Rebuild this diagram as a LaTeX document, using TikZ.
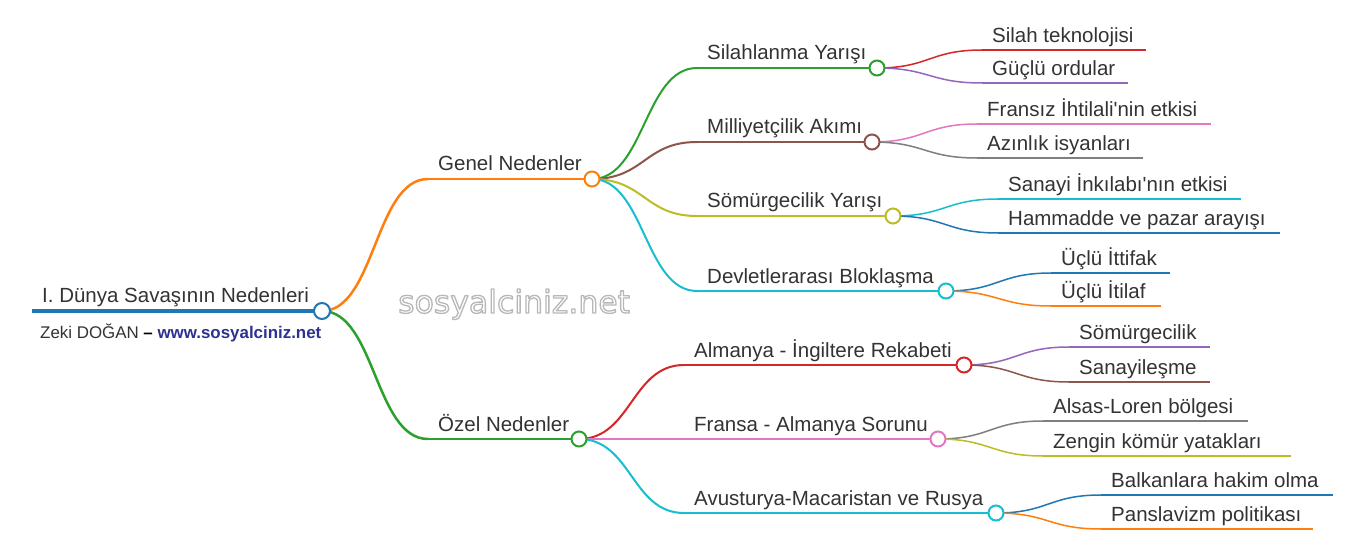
\documentclass[tikz,border=0pt]{standalone}
\usepackage{fontspec}
\newfontfamily\labfont{Liberation Sans}
\newfontfamily\wmfont{DejaVu Sans}
\usetikzlibrary{calc}
\definecolor{cblue}{HTML}{1F77B4}
\definecolor{corange}{HTML}{FF7F0E}
\definecolor{cgreen}{HTML}{2CA02C}
\definecolor{cred}{HTML}{D62728}
\definecolor{cpurple}{HTML}{9467BD}
\definecolor{cbrown}{HTML}{8C564B}
\definecolor{cpink}{HTML}{E377C2}
\definecolor{cgray}{HTML}{7F7F7F}
\definecolor{colive}{HTML}{BCBD22}
\definecolor{ccyan}{HTML}{17BECF}
\definecolor{txt}{HTML}{333333}
\definecolor{urlc}{HTML}{2E3192}
\tikzset{
  lbl/.style={anchor=base west, inner sep=0pt, font=\labfont\fontsize{20.5}{24}\selectfont, text=txt},
  dot/.style={circle, draw=#1, fill=white, line width=2pt, minimum size=15pt, inner sep=0pt},
  wm/.style={anchor=base west, inner sep=0pt, font=\wmfont\fontsize{31.5}{36}\selectfont},
  lw0/.style={line width=3.2pt},
  lw1/.style={line width=2.5pt},
  lw2/.style={line width=2pt},
  lw3/.style={line width=1.5pt}
}
\newcommand\lnk[3]{\draw[#3] let \p1=(#1), \p2=(#2) in (\p1) .. controls ({(\x1+\x2)/2},\y1) and ({(\x1+\x2)/2},\y2) .. (\p2);}
\begin{document}
\begin{tikzpicture}[x=1pt,y=-1pt]
\useasboundingbox[fill=white] (0,0) rectangle (1356,553);
% watermark: white letters with a grey outline
\node[wm, text=white] (wmark) at (398,313)
  {\special{pdf:literal direct 1 j 1.3 w 0.72 G 2 Tr}sosyalciniz.net\special{pdf:literal direct 0 Tr}};
% coordinates
\coordinate (r-s) at (32,311);  \coordinate (r) at (322,311);
\coordinate (g-s) at (428,179); \coordinate (g) at (592,179);
\coordinate (o-s) at (428,439); \coordinate (o) at (579,439);
\coordinate (a1-s) at (697,68);  \coordinate (a1) at (877,68);
\coordinate (a2-s) at (697,142); \coordinate (a2) at (872,142);
\coordinate (a3-s) at (697,216); \coordinate (a3) at (893,216);
\coordinate (a4-s) at (697,291); \coordinate (a4) at (946,291);
\coordinate (b1-s) at (684,365); \coordinate (b1) at (964,365);
\coordinate (b2-s) at (684,439); \coordinate (b2) at (938,439);
\coordinate (b3-s) at (684,513); \coordinate (b3) at (996,513);
% leaves
\coordinate (l1-s) at (982,50);   \coordinate (l1-e) at (1146,50);
\coordinate (l2-s) at (982,83);   \coordinate (l2-e) at (1128,83);
\coordinate (l3-s) at (977,124);  \coordinate (l3-e) at (1211,124);
\coordinate (l4-s) at (977,158);  \coordinate (l4-e) at (1143,158);
\coordinate (l5-s) at (998,199);  \coordinate (l5-e) at (1241,199);
\coordinate (l6-s) at (998,233);  \coordinate (l6-e) at (1280,233);
\coordinate (l7-s) at (1051,273); \coordinate (l7-e) at (1170,273);
\coordinate (l8-s) at (1051,306); \coordinate (l8-e) at (1161,306);
\coordinate (l9-s) at (1069,347); \coordinate (l9-e) at (1210,347);
\coordinate (l10-s) at (1069,382); \coordinate (l10-e) at (1210,382);
\coordinate (l11-s) at (1043,421); \coordinate (l11-e) at (1248,421);
\coordinate (l12-s) at (1043,456); \coordinate (l12-e) at (1291,456);
\coordinate (l13-s) at (1101,495); \coordinate (l13-e) at (1333,495);
\coordinate (l14-s) at (1101,529); \coordinate (l14-e) at (1313,529);
% horizontal lines
\draw[cblue,lw0] (r-s) -- (r);
\draw[corange,lw1] (g-s) -- (g);
\draw[cgreen,lw1] (o-s) -- (o);
\draw[cgreen,lw2] (a1-s) -- (a1);
\draw[cbrown,lw2] (a2-s) -- (a2);
\draw[colive,lw2] (a3-s) -- (a3);
\draw[ccyan,lw2] (a4-s) -- (a4);
\draw[cred,lw2] (b1-s) -- (b1);
\draw[cpink,lw2] (b2-s) -- (b2);
\draw[ccyan,lw2] (b3-s) -- (b3);
\draw[cred,lw3] (l1-s) -- (l1-e);
\draw[cpurple,lw3] (l2-s) -- (l2-e);
\draw[cpink,lw3] (l3-s) -- (l3-e);
\draw[cgray,lw3] (l4-s) -- (l4-e);
\draw[ccyan,lw3] (l5-s) -- (l5-e);
\draw[cblue,lw3] (l6-s) -- (l6-e);
\draw[cblue,lw3] (l7-s) -- (l7-e);
\draw[corange,lw3] (l8-s) -- (l8-e);
\draw[cpurple,lw3] (l9-s) -- (l9-e);
\draw[cbrown,lw3] (l10-s) -- (l10-e);
\draw[cgray,lw3] (l11-s) -- (l11-e);
\draw[colive,lw3] (l12-s) -- (l12-e);
\draw[cblue,lw3] (l13-s) -- (l13-e);
\draw[corange,lw3] (l14-s) -- (l14-e);
% links
\lnk{r}{g-s}{corange,lw1}
\lnk{r}{o-s}{cgreen,lw1}
\lnk{g}{a1-s}{cgreen,lw2}
\lnk{g}{a2-s}{cbrown,lw2}
\lnk{g}{a3-s}{colive,lw2}
\lnk{g}{a4-s}{ccyan,lw2}
\lnk{o}{b1-s}{cred,lw2}
\lnk{o}{b2-s}{cpink,lw2}
\lnk{o}{b3-s}{ccyan,lw2}
\lnk{a1}{l1-s}{cred,lw3}
\lnk{a1}{l2-s}{cpurple,lw3}
\lnk{a2}{l3-s}{cpink,lw3}
\lnk{a2}{l4-s}{cgray,lw3}
\lnk{a3}{l5-s}{ccyan,lw3}
\lnk{a3}{l6-s}{cblue,lw3}
\lnk{a4}{l7-s}{cblue,lw3}
\lnk{a4}{l8-s}{corange,lw3}
\lnk{b1}{l9-s}{cpurple,lw3}
\lnk{b1}{l10-s}{cbrown,lw3}
\lnk{b2}{l11-s}{cgray,lw3}
\lnk{b2}{l12-s}{colive,lw3}
\lnk{b3}{l13-s}{cblue,lw3}
\lnk{b3}{l14-s}{corange,lw3}
% circles
\node[dot=cblue, minimum size=16pt] (r-o) at (r) {};
\node[dot=corange] (g-o) at (g) {};
\node[dot=cgreen] (o-o) at (o) {};
\node[dot=cgreen] (a1-o) at (a1) {};
\node[dot=cbrown] (a2-o) at (a2) {};
\node[dot=colive] (a3-o) at (a3) {};
\node[dot=ccyan] (a4-o) at (a4) {};
\node[dot=cred] (b1-o) at (b1) {};
\node[dot=cpink] (b2-o) at (b2) {};
\node[dot=ccyan] (b3-o) at (b3) {};
% texts
\node[lbl] (r-t) at ($(r-s)+(10,-9)$) {I. Dünya Savaşının Nedenleri};
\node[anchor=base west, inner sep=0pt, font=\labfont\fontsize{16.9}{20}\selectfont] (sub) at (40,338)
  {\textcolor{txt}{Zeki DOĞAN} {\bfseries –} \textcolor{urlc}{\bfseries www.sosyalciniz.net}};
\node[lbl] (g-t) at ($(g-s)+(10,-8)$) {Genel Nedenler};
\node[lbl] (o-t) at ($(o-s)+(10,-8)$) {Özel Nedenler};
\node[lbl] (a1-t) at ($(a1-s)+(10,-8)$) {Silahlanma Yarışı};
\node[lbl] (a2-t) at ($(a2-s)+(10,-8)$) {Milliyetçilik Akımı};
\node[lbl] (a3-t) at ($(a3-s)+(10,-8)$) {Sömürgecilik Yarışı};
\node[lbl] (a4-t) at ($(a4-s)+(10,-8)$) {Devletlerarası Bloklaşma};
\node[lbl] (b1-t) at ($(b1-s)+(10,-8)$) {Almanya - İngiltere Rekabeti};
\node[lbl] (b2-t) at ($(b2-s)+(10,-8)$) {Fransa - Almanya Sorunu};
\node[lbl] (b3-t) at ($(b3-s)+(10,-8)$) {Avusturya-Macaristan ve Rusya};
\node[lbl] (l1-t) at ($(l1-s)+(10,-7.5)$) {Silah teknolojisi};
\node[lbl] (l2-t) at ($(l2-s)+(10,-7.5)$) {Güçlü ordular};
\node[lbl] (l3-t) at ($(l3-s)+(10,-7.5)$) {Fransız İhtilali'nin etkisi};
\node[lbl] (l4-t) at ($(l4-s)+(10,-7.5)$) {Azınlık isyanları};
\node[lbl] (l5-t) at ($(l5-s)+(10,-7.5)$) {Sanayi İnkılabı'nın etkisi};
\node[lbl] (l6-t) at ($(l6-s)+(10,-7.5)$) {Hammadde ve pazar arayışı};
\node[lbl] (l7-t) at ($(l7-s)+(10,-7.5)$) {Üçlü İttifak};
\node[lbl] (l8-t) at ($(l8-s)+(10,-7.5)$) {Üçlü İtilaf};
\node[lbl] (l9-t) at ($(l9-s)+(10,-7.5)$) {Sömürgecilik};
\node[lbl] (l10-t) at ($(l10-s)+(10,-7.5)$) {Sanayileşme};
\node[lbl] (l11-t) at ($(l11-s)+(10,-7.5)$) {Alsas-Loren bölgesi};
\node[lbl] (l12-t) at ($(l12-s)+(10,-7.5)$) {Zengin kömür yatakları};
\node[lbl] (l13-t) at ($(l13-s)+(10,-7.5)$) {Balkanlara hakim olma};
\node[lbl] (l14-t) at ($(l14-s)+(10,-7.5)$) {Panslavizm politikası};
\end{tikzpicture}
\end{document}
